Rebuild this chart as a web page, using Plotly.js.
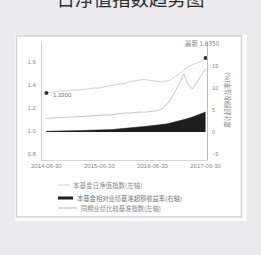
<!DOCTYPE html>
<html><head><meta charset="utf-8">
<script src="https://cdn.plot.ly/plotly-3.0.1.min.js"></script>
<style>html,body{margin:0;padding:0;background:#ebebed;}#chart{width:261px;height:255px;}</style>
</head><body><div id="chart"></div>
<script>
const dates = ['2014-06-30','2014-07-31','2014-08-31','2014-09-30','2014-10-31','2014-11-30','2014-12-31',
'2015-01-31','2015-02-28','2015-03-31','2015-04-30','2015-05-31','2015-06-30','2015-07-31','2015-08-31',
'2015-09-30','2015-10-31','2015-11-30','2015-12-31','2016-01-31','2016-02-29','2016-03-31','2016-04-30',
'2016-05-31','2016-06-30','2016-07-31','2016-08-31','2016-09-30','2016-10-31','2016-11-30','2016-12-31',
'2017-01-31','2017-02-28','2017-03-31','2017-04-30','2017-05-31','2017-06-30'];
const fundIndex = [1.330,1.339,1.343,1.349,1.346,1.352,1.357,1.355,1.361,1.366,1.369,1.374,1.373,1.383,1.390,
1.396,1.401,1.409,1.417,1.430,1.439,1.443,1.448,1.442,1.439,1.430,1.426,1.435,1.443,1.470,1.504,1.530,1.557,
1.574,1.591,1.609,1.635];
const benchIndex = [1.109,1.113,1.112,1.117,1.116,1.122,1.121,1.126,1.125,1.130,1.131,1.135,1.134,1.139,1.138,
1.143,1.148,1.152,1.157,1.156,1.161,1.165,1.164,1.166,1.170,1.178,1.191,1.226,1.270,1.339,1.409,1.496,1.409,
1.365,1.426,1.487,1.539];
const excessReturn = [0.18,0.23,0.23,0.25,0.27,0.27,0.30,0.32,0.34,0.36,0.39,0.39,0.41,0.43,0.45,0.57,0.68,
0.80,0.91,0.98,1.07,1.14,1.25,1.34,1.45,1.55,1.64,1.82,2.05,2.27,2.50,2.73,3.07,3.41,3.75,4.09,4.55];
const xTickVals = ['2014-06-30','2015-06-30','2016-06-30','2017-06-30'];
const leftTicks = [0.8,1.0,1.2,1.4,1.6];
const rightTicks = [-5,0,5,10,15];
const chartTitle = '日净值指数趋势图';
const rightAxisTitle = '累计超额收益率(%)';
const legendLabels = ['本基金日净值指数(左轴)','本基金相对业绩基准超额收益率(右轴)','同期业绩比较基准指数(左轴)'];
const latestLabel = '最新 ';

const L=42,R=207,T=42,B=160;
const xp = px => (px-L)/(R-L);
const yp = py => (B-py)/(B-T);
const FONT = 'Liberation Sans, Noto Sans CJK SC, sans-serif';
const CJK = 'Noto Sans CJK SC, sans-serif';
const n = dates.length-1;

const traces = [
  {x:dates, y:excessReturn, yaxis:'y2', type:'scatter', mode:'lines', fill:'tozeroy',
   fillcolor:'#1e1e1e', line:{color:'#1e1e1e', width:0.5}, hoverinfo:'skip'},
  {x:dates, y:benchIndex, type:'scatter', mode:'lines', line:{color:'#c4c4c4', width:1}},
  {x:dates, y:fundIndex, type:'scatter', mode:'lines', line:{color:'#cfcfcf', width:1}},
  {x:[dates[0],dates[n]], y:[fundIndex[0],fundIndex[n]], type:'scatter', mode:'markers',
   marker:{color:'#333', size:4}}
];

const shapes = [
  {type:'rect', xref:'paper', yref:'paper', x0:xp(15), x1:xp(247), y0:yp(221), y1:yp(35),
   fillcolor:'#ffffff', line:{width:0}, layer:'below'},
  {type:'rect', xref:'paper', yref:'paper', x0:xp(16.5), x1:xp(241.5), y0:yp(217), y1:yp(36),
   fillcolor:'rgba(0,0,0,0)', line:{color:'#d2d2d2', width:1.5}, layer:'below'},
  {type:'line', xref:'paper', yref:'paper', x0:xp(58), x1:xp(69), y0:yp(185), y1:yp(185), line:{color:'#cfcfcf', width:1}},
  {type:'rect', xref:'paper', yref:'paper', x0:xp(58), x1:xp(73), y0:yp(199.5), y1:yp(196.5), fillcolor:'#1e1e1e', line:{width:0}},
  {type:'line', xref:'paper', yref:'paper', x0:xp(58), x1:xp(77), y0:yp(208), y1:yp(208), line:{color:'#b0b0b0', width:1}}
];

const annotations = [
  {x:dates[0], y:fundIndex[0], xref:'x', yref:'y', text:fundIndex[0].toFixed(4), showarrow:false,
   xanchor:'left', yanchor:'middle', xshift:5, yshift:-2, font:{family:FONT, size:6, color:'#777'}},
  {x:dates[n], y:fundIndex[n], xref:'x', yref:'y', text:latestLabel+fundIndex[n].toFixed(4), showarrow:false,
   xanchor:'center', yanchor:'bottom', xshift:-3, yshift:8, font:{family:CJK, size:6.5, color:'#888'}},
  {x:xp(234), y:yp(100), xref:'paper', yref:'paper', text:rightAxisTitle, textangle:-90, showarrow:false,
   font:{family:CJK, size:6.5, color:'#888'}},
  {x:xp(71), y:yp(185), xref:'paper', yref:'paper', text:legendLabels[0], showarrow:false, xanchor:'left',
   yanchor:'middle', font:{family:CJK, size:6.5, color:'#888'}},
  {x:xp(75), y:yp(198), xref:'paper', yref:'paper', text:legendLabels[1], showarrow:false, xanchor:'left',
   yanchor:'middle', font:{family:CJK, size:6.3, color:'#777'}},
  {x:xp(79), y:yp(208), xref:'paper', yref:'paper', text:legendLabels[2], showarrow:false, xanchor:'left',
   yanchor:'middle', font:{family:CJK, size:6.3, color:'#888'}}
];

const layout = {
  width:261, height:255, margin:{l:L, r:261-R, t:T, b:255-B},
  paper_bgcolor:'#ebebed', plot_bgcolor:'rgba(0,0,0,0)', showlegend:false,
  title:{text:chartTitle, x:0.5, xanchor:'center', y:1.0, yref:'container', yanchor:'middle',
    font:{family:CJK, size:18.5, color:'#2e2e2e'}},
  xaxis:{type:'date', range:['2014-05-31','2017-07-10'], tickvals:xTickVals, ticktext:xTickVals,
    showgrid:false, zeroline:false, showline:true, linecolor:'#d6d6d6', linewidth:1, ticks:'',
    tickfont:{family:FONT, size:6, color:'#888'}},
  yaxis:{range:[0.748,1.774], tickvals:leftTicks, tickformat:'.1f', showgrid:false, zeroline:false,
    showline:true, linecolor:'#cfcfcf', linewidth:1, ticks:'', ticklabelstandoff:4,
    tickfont:{family:FONT, size:6, color:'#888'}},
  yaxis2:{overlaying:'y', side:'right', range:[-6.36,20.45], tickvals:rightTicks, ticksuffix:'%',
    showgrid:false, zeroline:false, showline:true, linecolor:'#bdbdbd', linewidth:1, ticks:'', ticklabelstandoff:3,
    tickfont:{family:FONT, size:5.5, color:'#888'}},
  shapes:shapes, annotations:annotations
};

Plotly.newPlot('chart', traces, layout, {displayModeBar:false, staticPlot:true});
</script></body></html>
